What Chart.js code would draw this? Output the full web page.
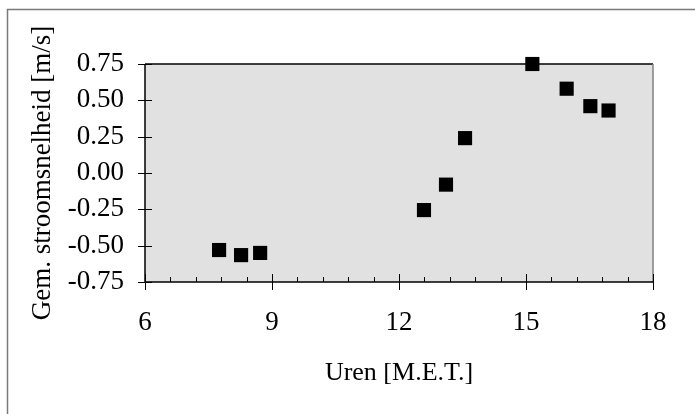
<!DOCTYPE html>
<html>
<head>
<meta charset="utf-8">
<script src="https://cdn.jsdelivr.net/npm/chart.js@4/dist/chart.umd.min.js"></script>
<style>
  html, body { margin: 0; padding: 0; background: #fff; }
  #wrap { width: 695px; height: 414px; position: relative; }
</style>
</head>
<body>
<div id="wrap"><canvas id="chart" width="695" height="414"></canvas></div>
<script>
// ===== Data =====
const hours = [7.75, 8.27, 8.72, 12.59, 13.11, 13.56, 15.15, 15.96, 16.52, 16.95];
const speed = [-0.53, -0.565, -0.55, -0.255, -0.08, 0.24, 0.75, 0.58, 0.46, 0.43];
const xTicks = [6, 9, 12, 15, 18];
const yTicks = [-0.75, -0.5, -0.25, 0, 0.25, 0.5, 0.75];

const serif = 'Liberation Serif, "Times New Roman", serif';

// ===== Frame, plot background and tick marks =====
const framePlugin = {
    id: 'frame',
    beforeDraw(chart) {
        const {ctx, chartArea: a} = chart;
        ctx.save();
        ctx.strokeStyle = '#7a7a7a';
        ctx.lineWidth = 1.5;
        ctx.strokeRect(7.5, 9.5, 700, 420);
        ctx.fillStyle = '#e1e1e1';
        ctx.fillRect(a.left, a.top, a.right - a.left, a.bottom - a.top);
        ctx.restore();
    },
    beforeDatasetsDraw(chart) {
        const {ctx, chartArea: a, scales: {x, y}} = chart;
        ctx.save();
        // top (black) and right (gray) edges
        ctx.lineWidth = 1.5;
        ctx.strokeStyle = '#000';
        ctx.beginPath();
        ctx.moveTo(a.left, a.top); ctx.lineTo(a.right, a.top);
        ctx.stroke();
        ctx.strokeStyle = '#808080';
        ctx.beginPath();
        ctx.moveTo(a.right, a.top); ctx.lineTo(a.right, a.bottom);
        ctx.stroke();
        // axes
        ctx.strokeStyle = '#000';
        ctx.lineWidth = 1.5;
        ctx.beginPath();
        ctx.moveTo(a.left, a.top); ctx.lineTo(a.left, a.bottom); ctx.lineTo(a.right, a.bottom);
        ctx.stroke();
        ctx.lineWidth = 1;
        ctx.beginPath();
        yTicks.forEach(v => {
            const py = Math.round(y.getPixelForValue(v)) + 0.5;
            ctx.moveTo(a.left - 7, py); ctx.lineTo(a.left + 7, py);
        });
        for (let v = 6; v <= 18.001; v += 0.6) {
            const px = Math.round(x.getPixelForValue(v)) + 0.5;
            const major = xTicks.some(t => Math.abs(t - v) < 0.01);
            if (major) { ctx.moveTo(px, a.bottom - 8); ctx.lineTo(px, a.bottom + 8); }
            else { ctx.moveTo(px, a.bottom - 5); ctx.lineTo(px, a.bottom); }
        }
        ctx.stroke();
        ctx.restore();
    }
};

const ctx = document.getElementById('chart').getContext('2d');
new Chart(ctx, {
    type: 'scatter',
    data: {
        datasets: [{
            data: hours.map((h, i) => ({x: h, y: speed[i]})),
            pointStyle: 'rect',
            radius: 10,
            hoverRadius: 10,
            backgroundColor: '#000',
            borderColor: '#000',
            borderWidth: 0,
            clip: false
        }]
    },
    options: {
        responsive: false,
        animation: false,
        layout: { padding: { top: 64, right: 42, left: 0, bottom: 0 } },
        plugins: { legend: { display: false }, tooltip: { enabled: false } },
        scales: {
            x: {
                type: 'linear', min: 6, max: 18,
                afterBuildTicks: s => { s.ticks = xTicks.map(v => ({value: v})); },
                afterFit: s => { s.height = 132; },
                grid: { display: false, drawTicks: false },
                border: { display: false },
                ticks: { color: '#000', padding: 25, font: { family: serif, size: 27 } },
                title: { display: true, text: 'Uren [M.E.T.]', color: '#000',
                         padding: { top: 0, bottom: 25 }, font: { family: serif, size: 26 } }
            },
            y: {
                type: 'linear', min: -0.75, max: 0.75,
                afterBuildTicks: s => { s.ticks = yTicks.map(v => ({value: v})); },
                afterFit: s => { s.width = 145; },
                grid: { display: false, drawTicks: false },
                border: { display: false },
                ticks: { color: '#000', padding: 21, font: { family: serif, size: 27 },
                         callback: v => v.toFixed(2) },
                title: { display: true, text: 'Gem. stroomsnelheid [m/s]', color: '#000',
                         padding: { top: 27, bottom: 0 }, font: { family: serif, size: 27 } }
            }
        }
    },
    plugins: [framePlugin]
});
</script>
</body>
</html>
